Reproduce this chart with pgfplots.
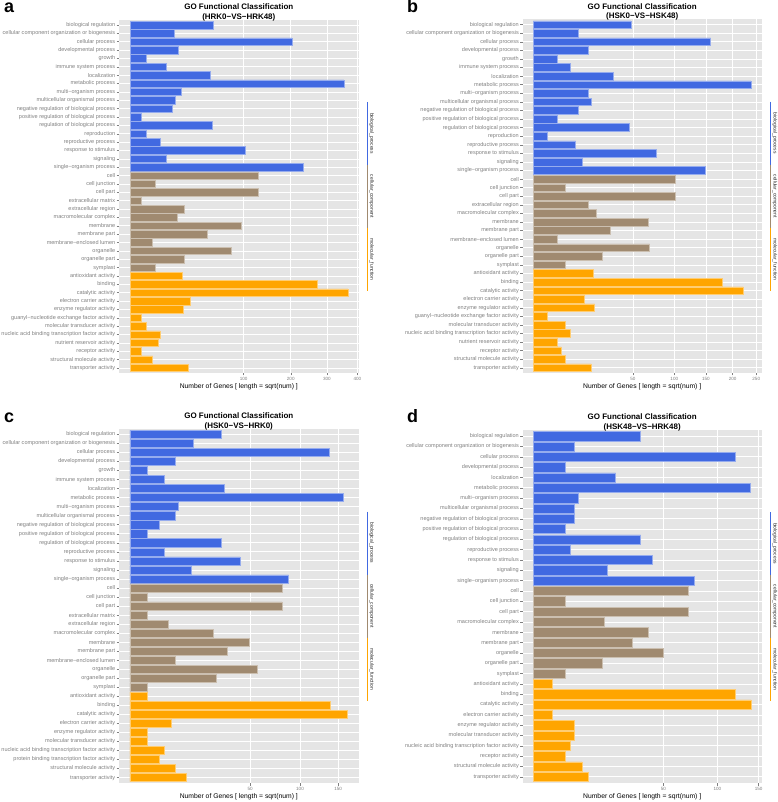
\documentclass[border=0pt]{standalone}
\usepackage{pgfplots}
\pgfplotsset{compat=1.18}
\usepackage{fontspec}
\setmainfont{Liberation Sans}
\definecolor{bpc}{HTML}{4169E1}
\definecolor{ccc}{HTML}{A08A70}
\definecolor{mfc}{HTML}{FFA500}
\definecolor{bgg}{HTML}{E5E5E5}
\definecolor{axg}{HTML}{7F7F7F}
\pgfplotsset{
 gopanel/.style={
  scale only axis,
  y dir=reverse,
  axis background/.style={fill=bgg},
  axis line style={draw=none},
  xmajorgrids, ymajorgrids,
  grid style={white, line width=0.7bp},
  tick align=outside,
  xtick pos=bottom, ytick pos=left,
  major tick length=2.5bp,
  tick style={axg, line width=0.5bp},
  yticklabel style={font=\fontsize{5.55}{6}\selectfont, text=axg, inner sep=0pt, xshift=-1.2bp},
  xticklabel style={font=\fontsize{4.6}{5}\selectfont, text=axg, inner sep=0pt, yshift=-1.5bp},
  /pgf/number format/assume math mode=true,
  xlabel={Number of Genes [ length = sqrt(num) ]},
  every axis x label/.style={at={(axis description cs:0.5,0)}, anchor=center, yshift=-13.7bp, font=\fontsize{6.8}{7}\selectfont},
  every axis title/.style={at={(axis description cs:0.5,1)}, anchor=south, inner sep=0pt, yshift=-1bp, font=\bfseries\fontsize{8}{9.3}\selectfont, align=center},
  x filter/.expression={sqrt(x)},
  clip=false,
 },
 gobar/.style={xbar, bar shift=0pt, bar width=0.9, line width=0.5bp},
}
\newcommand{\strips}{%
 \draw[bpc, line width=0.8bp] ([xshift=9bp,yshift=94.5bp]rel axis cs:1,0.5) -- node[midway, anchor=south, rotate=-90, font=\fontsize{5}{6}\selectfont, text=black!85, inner sep=1.5bp]{biological\_process} ([xshift=9bp,yshift=31.5bp]rel axis cs:1,0.5);
 \draw[ccc, line width=0.8bp] ([xshift=9bp,yshift=31.5bp]rel axis cs:1,0.5) -- node[midway, anchor=south, rotate=-90, font=\fontsize{5}{6}\selectfont, text=black!85, inner sep=1.5bp]{cellular\_component} ([xshift=9bp,yshift=-31.5bp]rel axis cs:1,0.5);
 \draw[mfc, line width=0.8bp] ([xshift=9bp,yshift=-31.5bp]rel axis cs:1,0.5) -- node[midway, anchor=south, rotate=-90, font=\fontsize{5}{6}\selectfont, text=black!85, inner sep=1.5bp]{molecular\_function} ([xshift=9bp,yshift=-94.5bp]rel axis cs:1,0.5);
}
\begin{document}
\begin{tikzpicture}
\useasboundingbox (0,0) rectangle (778bp,802bp);
% ---------------- panel a
\begin{axis}[gopanel,
  at={(119.1bp,782bp)}, anchor=north west, width=239.4bp, height=353bp,
  xmin=-0.96, xmax=20.1, ymin=-0.6, ymax=41.6,
  xtick={10,14.1421,17.3205,20}, xticklabels={100,200,300,400},
  ytick={0,...,41},
  yticklabels={biological regulation, cellular component organization or biogenesis, cellular process, developmental process, growth, immune system process, localization, metabolic process, multi−organism process, multicellular organismal process, negative regulation of biological process, positive regulation of biological process, regulation of biological process, reproduction, reproductive process, response to stimulus, signaling, single−organism process, cell, cell junction, cell part, extracellular matrix, extracellular region, macromolecular complex, membrane, membrane part, membrane−enclosed lumen, organelle, organelle part, symplast, antioxidant activity, binding, catalytic activity, electron carrier activity, enzyme regulator activity, guanyl−nucleotide exchange factor activity, molecular transducer activity, nucleic acid binding transcription factor activity, nutrient reservoir activity, receptor activity, structural molecule activity, transporter activity},
  title={GO Functional Classification\\(HRK0−VS−HRK48)}]
\addplot[gobar, fill=bpc, draw=bpc!55!white] coordinates {(54,0) (15,1) (203,2) (18,3) (2,4) (10,5) (50,6) (354,7) (20,8) (16,9) (14,10) (1,11) (52,12) (2,13) (7,14) (102,15) (10,16) (231,17)};
\addplot[gobar, fill=ccc, draw=ccc!55!white] coordinates {(127,18) (5,19) (127,20) (1,21) (23,22) (17,23) (96,24) (46,25) (4,26) (80,27) (23,28) (5,29)};
\addplot[gobar, fill=mfc, draw=mfc!55!white] coordinates {(21,30) (272,31) (367,32) (28,33) (22,34) (1,35) (2,36) (7,37) (6,38) (1,39) (4,40) (26,41)};
\strips
\end{axis}
% ---------------- panel b
\begin{axis}[gopanel,
  at={(522.7bp,782.5bp)}, anchor=north west, width=239bp, height=353.5bp,
  xmin=-0.75, xmax=16.2, ymin=-0.6, ymax=40.6,
  xtick={7.0711,10,12.2474,14.1421,15.8114}, xticklabels={50,100,150,200,250},
  ytick={0,...,40},
  yticklabels={biological regulation, cellular component organization or biogenesis, cellular process, developmental process, growth, immune system process, localization, metabolic process, multi−organism process, multicellular organismal process, negative regulation of biological process, positive regulation of biological process, regulation of biological process, reproduction, reproductive process, response to stimulus, signaling, single−organism process, cell, cell junction, cell part, extracellular region, macromolecular complex, membrane, membrane part, membrane−enclosed lumen, organelle, organelle part, symplast, antioxidant activity, binding, catalytic activity, electron carrier activity, enzyme regulator activity, guanyl−nucleotide exchange factor activity, molecular transducer activity, nucleic acid binding transcription factor activity, nutrient reservoir activity, receptor activity, structural molecule activity, transporter activity},
  title={GO Functional Classification\\(HSK0−VS−HSK48)}]
\addplot[gobar, fill=bpc, draw=bpc!55!white] coordinates {(48,0) (10,1) (158,2) (15,3) (3,4) (7,5) (32,6) (238,7) (15,8) (17,9) (10,10) (3,11) (46,12) (1,13) (9,14) (76,15) (12,16) (148,17)};
\addplot[gobar, fill=ccc, draw=ccc!55!white] coordinates {(101,18) (5,19) (101,20) (15,21) (20,22) (67,23) (30,24) (3,25) (68,26) (24,27) (5,28)};
\addplot[gobar, fill=mfc, draw=mfc!55!white] coordinates {(18,29) (180,30) (222,31) (13,32) (19,33) (1,34) (5,35) (7,36) (3,37) (4,38) (5,39) (17,40)};
\strips
\end{axis}
% ---------------- panel c
\begin{axis}[gopanel,
  at={(119.1bp,373bp)}, anchor=north west, width=239.4bp, height=354bp,
  xmin=-0.64, xmax=13.44, ymin=-0.6, ymax=38.6,
  xtick={7.0711,10,12.2474}, xticklabels={50,100,150},
  ytick={0,...,38},
  yticklabels={biological regulation, cellular component organization or biogenesis, cellular process, developmental process, growth, immune system process, localization, metabolic process, multi−organism process, multicellular organismal process, negative regulation of biological process, positive regulation of biological process, regulation of biological process, reproductive process, response to stimulus, signaling, single−organism process, cell, cell junction, cell part, extracellular matrix, extracellular region, macromolecular complex, membrane, membrane part, membrane−enclosed lumen, organelle, organelle part, symplast, antioxidant activity, binding, catalytic activity, electron carrier activity, enzyme regulator activity, molecular transducer activity, nucleic acid binding transcription factor activity, protein binding transcription factor activity, structural molecule activity, transporter activity},
  title={GO Functional Classification\\(HSK0−VS−HRK0)}]
\addplot[gobar, fill=bpc, draw=bpc!55!white] coordinates {(29,0) (14,1) (137,2) (7,3) (1,4) (4,5) (31,6) (157,7) (8,8) (7,9) (3,10) (1,11) (29,12) (4,13) (42,14) (13,15) (87,16)};
\addplot[gobar, fill=ccc, draw=ccc!55!white] coordinates {(80,17) (1,18) (80,19) (1,20) (5,21) (24,22) (49,23) (33,24) (7,25) (56,26) (26,27) (1,28)};
\addplot[gobar, fill=mfc, draw=mfc!55!white] coordinates {(1,29) (139,30) (164,31) (6,32) (1,33) (1,34) (4,35) (3,36) (7,37) (11,38)};
\strips
\end{axis}
% ---------------- panel d
\begin{axis}[gopanel,
  at={(522.7bp,372bp)}, anchor=north west, width=239bp, height=353bp,
  xmin=-0.58, xmax=12.41, ymin=-0.6, ymax=33.6,
  xtick={7.0711,10,12.2474}, xticklabels={50,100,150},
  ytick={0,...,33},
  yticklabels={biological regulation, cellular component organization or biogenesis, cellular process, developmental process, localization, metabolic process, multi−organism process, multicellular organismal process, negative regulation of biological process, positive regulation of biological process, regulation of biological process, reproductive process, response to stimulus, signaling, single−organism process, cell, cell junction, cell part, macromolecular complex, membrane, membrane part, organelle, organelle part, symplast, antioxidant activity, binding, catalytic activity, electron carrier activity, enzyme regulator activity, molecular transducer activity, nucleic acid binding transcription factor activity, receptor activity, structural molecule activity, transporter activity},
  title={GO Functional Classification\\(HSK48−VS−HRK48)}]
\addplot[gobar, fill=bpc, draw=bpc!55!white] coordinates {(34,0) (5,1) (120,2) (3,3) (20,4) (139,5) (6,6) (5,7) (5,8) (3,9) (34,10) (4,11) (42,12) (16,13) (76,14)};
\addplot[gobar, fill=ccc, draw=ccc!55!white] coordinates {(71,15) (3,16) (71,17) (15,18) (39,19) (29,20) (50,21) (14,22) (3,23)};
\addplot[gobar, fill=mfc, draw=mfc!55!white] coordinates {(1,24) (120,25) (140,26) (1,27) (5,28) (5,29) (4,30) (3,31) (7,32) (9,33)};
\strips
\end{axis}
% panel letters
\node[anchor=base west, inner sep=0pt, font=\bfseries\fontsize{18}{18}\selectfont] at (4bp,789.3bp) {a};
\node[anchor=base west, inner sep=0pt, font=\bfseries\fontsize{18}{18}\selectfont] at (407bp,789bp) {b};
\node[anchor=base west, inner sep=0pt, font=\bfseries\fontsize{18}{18}\selectfont] at (4bp,379bp) {c};
\node[anchor=base west, inner sep=0pt, font=\bfseries\fontsize{18}{18}\selectfont] at (407bp,379bp) {d};
\end{tikzpicture}
\end{document}
